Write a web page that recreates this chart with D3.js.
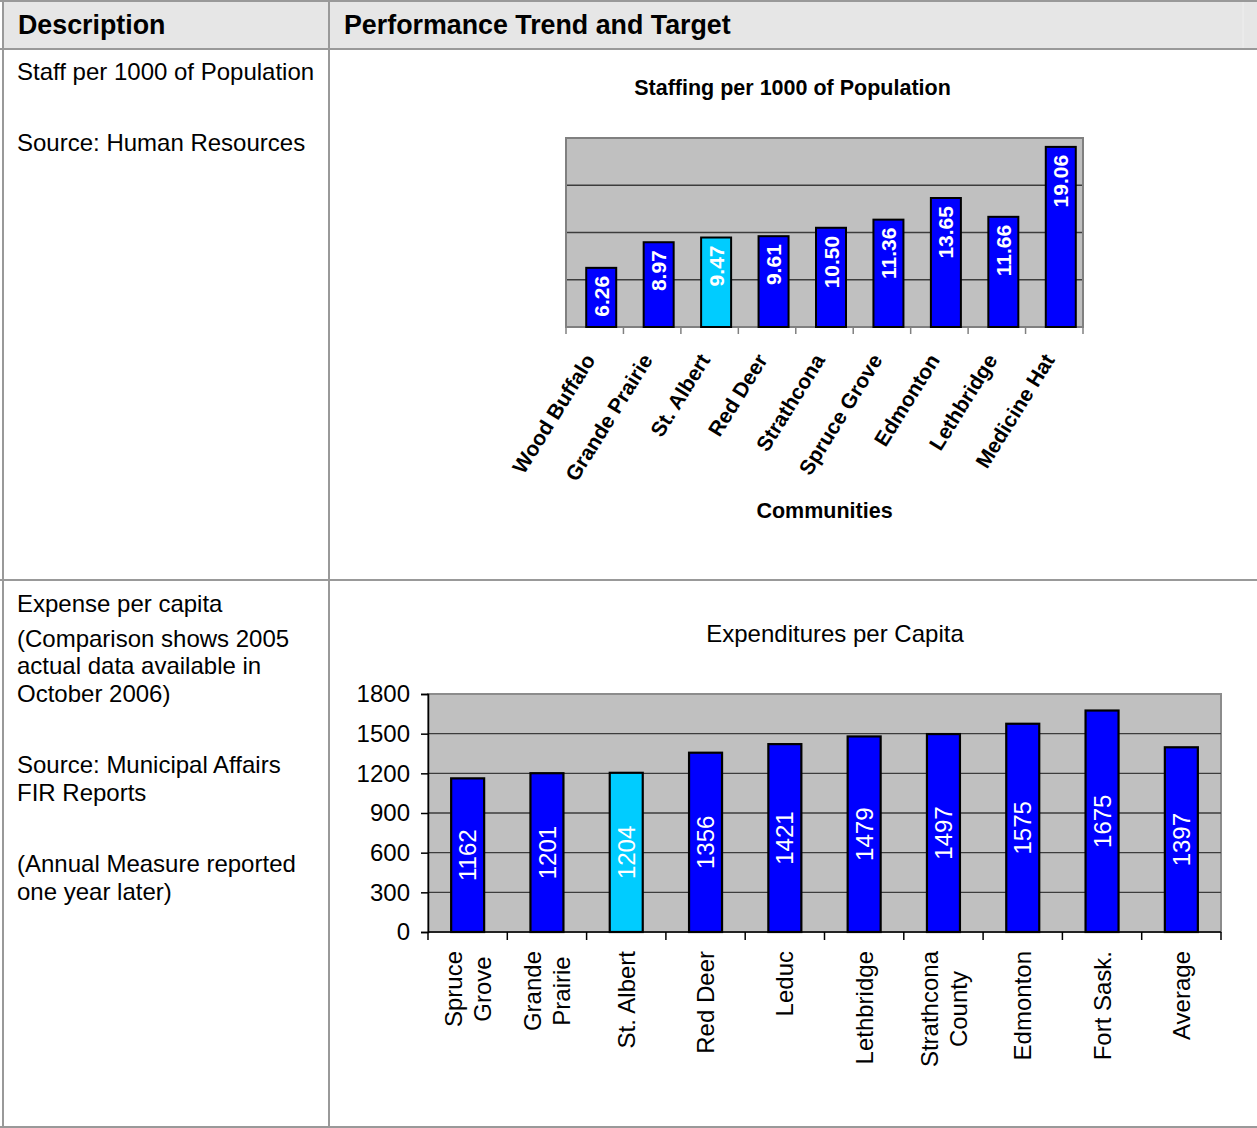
<!DOCTYPE html>
<html>
<head>
<meta charset="utf-8">
<script src="https://cdn.jsdelivr.net/npm/d3@7"></script>
<style>
  html, body { margin: 0; padding: 0; background: #fff; }
  svg { display: block; font-family: "Liberation Sans", Arial, Helvetica, sans-serif; }
</style>
</head>
<body>
<svg id="page" width="1257" height="1128"></svg>
<script>
// Staffing per 1000 of population, by community
const staffCommunities = ["Wood Buffalo", "Grande Prairie", "St. Albert", "Red Deer", "Strathcona",
  "Spruce Grove", "Edmonton", "Lethbridge", "Medicine Hat"];
const staffValues = [6.26, 8.97, 9.47, 9.61, 10.50, 11.36, 13.65, 11.66, 19.06];
const staffGrid = [5, 10, 15];

// Expenditures per capita (2005 actuals)
const expenseCommunities = ["Spruce\nGrove", "Grande\nPrairie", "St. Albert", "Red Deer", "Leduc",
  "Lethbridge", "Strathcona\nCounty", "Edmonton", "Fort Sask.", "Average"];
const expenseValues = [1162, 1201, 1204, 1356, 1421, 1479, 1497, 1575, 1675, 1397];
const expenseTicks = [0, 300, 600, 900, 1200, 1500, 1800];

const highlight = "St. Albert";

// Table text
const headers = ["Description", "Performance Trend and Target"];
const row1Text = [["Staff per 1000 of Population", 80], ["Source: Human Resources", 151]];
const row2Text = [["Expense per capita", 612], ["(Comparison shows 2005", 647], ["actual data available in", 674],
  ["October 2006)", 702], ["Source: Municipal Affairs", 773], ["FIR Reports", 801],
  ["(Annual Measure reported", 872], ["one year later)", 900]];

const BLUE = "#0000ff", CYAN = "#00ccff", PLOT_BG = "#c0c0c0", GRID = "#3c3c3c", BORDER = "#999999";

const svg = d3.select("#page");

// ---------- table frame ----------
svg.append("rect").attr("x", 4).attr("y", 2).attr("width", 1253).attr("height", 46).attr("fill", "#e6e6e6");
svg.append("line").attr("x1", 1243).attr("x2", 1243).attr("y1", 2).attr("y2", 48).attr("stroke", "#efefef").attr("stroke-width", 1);
const frame = svg.append("g").attr("stroke", BORDER).attr("stroke-width", 2);
[[0, 1, 1257, 1], [0, 49, 1257, 49], [0, 580, 1257, 580], [0, 1127, 1257, 1127],
 [3, 0, 3, 1128], [329, 0, 329, 1128]].forEach(([x1, y1, x2, y2]) =>
  frame.append("line").attr("x1", x1).attr("y1", y1).attr("x2", x2).attr("y2", y2));

svg.selectAll("text.hdr").data(headers).join("text")
  .attr("class", "hdr")
  .attr("x", (d, i) => i === 0 ? 18 : 344).attr("y", 34)
  .attr("font-size", 26.8).attr("font-weight", "bold").attr("fill", "#000").text(d => d);

svg.selectAll("text.desc").data(row1Text.concat(row2Text)).join("text")
  .attr("class", "desc")
  .attr("x", 17).attr("y", d => d[1])
  .attr("font-size", 24).attr("fill", "#000").text(d => d[0]);

// ---------- chart 1: staffing ----------
(function () {
  const left = 566, right = 1083, top = 138, bottom = 327;
  const x = d3.scaleBand().domain(staffCommunities).range([left, right]);
  const y = d3.scaleLinear().domain([0, 20]).range([bottom, top]);
  const barW = 30, barShift = 6.5;
  const g = svg.append("g");

  svg.append("text").attr("x", 792.5).attr("y", 95).attr("text-anchor", "middle")
    .attr("font-size", 21.5).attr("font-weight", "bold").text("Staffing per 1000 of Population");

  g.append("rect").attr("x", left).attr("y", top).attr("width", right - left).attr("height", bottom - top)
    .attr("fill", PLOT_BG);
  g.selectAll("line.grid").data(staffGrid).join("line")
    .attr("x1", left).attr("x2", right).attr("y1", d => y(d)).attr("y2", d => y(d))
    .attr("stroke", GRID).attr("stroke-width", 1.5);
  g.append("rect").attr("x", left).attr("y", top).attr("width", right - left).attr("height", bottom - top)
    .attr("fill", "none").attr("stroke", "#808080").attr("stroke-width", 2);

  // tick marks on the band boundaries
  const bounds = staffCommunities.map(c => x(c)).concat([x.range()[1]]);
  g.append("g").attr("transform", `translate(0,${bottom})`)
    .selectAll("line.tk").data(bounds).join("line")
    .attr("x1", d => d).attr("x2", d => d).attr("y1", 0).attr("y2", 7)
    .attr("stroke", "#808080").attr("stroke-width", 1.5);

  const bars = staffCommunities.map((c, i) => ({ c, v: staffValues[i] }));
  g.selectAll("rect.bar").data(bars).join("rect")
    .attr("x", d => x(d.c) + x.bandwidth() / 2 + barShift - barW / 2)
    .attr("y", d => y(d.v)).attr("width", barW).attr("height", d => y(0) - y(d.v))
    .attr("fill", d => d.c === highlight ? CYAN : BLUE)
    .attr("stroke", "#000").attr("stroke-width", 2);

  g.selectAll("text.val").data(bars).join("text")
    .attr("transform", d => `translate(${x(d.c) + x.bandwidth() / 2 + barShift},${y(d.v) + 8}) rotate(-90)`)
    .attr("text-anchor", "end").attr("dy", "0.36em")
    .attr("font-size", 21).attr("font-weight", "bold").attr("fill", "#fff")
    .text(d => d3.format(".2f")(d.v));

  g.selectAll("text.cat").data(staffCommunities).join("text")
    .attr("transform", d => `translate(${x(d) + x.bandwidth() / 2 - 5},${bottom + 29}) rotate(-58)`)
    .attr("text-anchor", "end").attr("dy", "0.35em")
    .attr("font-size", 21).attr("font-weight", "bold").text(d => d);

  svg.append("text").attr("x", (left + right) / 2).attr("y", 518).attr("text-anchor", "middle")
    .attr("font-size", 21.5).attr("font-weight", "bold").text("Communities");
})();

// ---------- chart 2: expenditures ----------
(function () {
  const left = 428, right = 1221, top = 694, bottom = 932;
  const x = d3.scaleBand().domain(expenseCommunities).range([left, right]);
  const y = d3.scaleLinear().domain([0, 1800]).range([bottom, top]);
  const barW = 33;
  const g = svg.append("g");

  svg.append("text").attr("x", 835).attr("y", 642).attr("text-anchor", "middle")
    .attr("font-size", 24).text("Expenditures per Capita");

  g.append("rect").attr("x", left).attr("y", top).attr("width", right - left).attr("height", bottom - top)
    .attr("fill", PLOT_BG).attr("stroke", "#8c8c8c").attr("stroke-width", 2);
  g.selectAll("line.grid").data(expenseTicks.filter(t => t > 0 && t < 1800)).join("line")
    .attr("x1", left).attr("x2", right).attr("y1", d => y(d)).attr("y2", d => y(d))
    .attr("stroke", GRID).attr("stroke-width", 1.3);

  // y axis
  const yAxis = d3.axisLeft(y).tickValues(expenseTicks).tickFormat(d3.format("d")).tickSize(7).tickPadding(11);
  const ya = g.append("g").attr("transform", `translate(${left},0)`).call(yAxis);
  ya.select(".domain").attr("stroke", "#000").attr("stroke-width", 1.5);
  ya.selectAll(".tick line").attr("stroke", "#000").attr("stroke-width", 1.5);
  ya.selectAll(".tick text").attr("font-size", 24).attr("font-family", "Liberation Sans, Arial, sans-serif")
    .attr("fill", "#000");

  // x axis with ticks on band boundaries
  const xa = g.append("g").attr("transform", `translate(0,${bottom})`);
  xa.append("line").attr("x1", left).attr("x2", right).attr("stroke", "#000").attr("stroke-width", 1.5);
  const bounds = expenseCommunities.map(c => x(c)).concat([x.range()[1]]);
  xa.selectAll("line.tk").data(bounds).join("line")
    .attr("x1", d => d).attr("x2", d => d).attr("y1", 0).attr("y2", 8)
    .attr("stroke", "#000").attr("stroke-width", 1.5);

  const bars = expenseCommunities.map((c, i) => ({ c, v: expenseValues[i] }));
  const cx = d => x(d.c) + x.bandwidth() / 2;
  g.selectAll("rect.bar").data(bars).join("rect")
    .attr("x", d => cx(d) - barW / 2)
    .attr("y", d => y(d.v)).attr("width", barW).attr("height", d => y(0) - y(d.v))
    .attr("fill", d => d.c === highlight ? CYAN : BLUE)
    .attr("stroke", "#000").attr("stroke-width", 2.2);

  g.selectAll("text.val").data(bars).join("text")
    .attr("transform", d => `translate(${cx(d)},${(y(d.v) + y(0)) / 2}) rotate(-90)`)
    .attr("text-anchor", "middle").attr("dy", "0.36em")
    .attr("font-size", 24).attr("fill", "#fff").text(d => d.v);

  // category labels, rotated, multi-line centred on each other and hung from the axis
  const lineGap = 29;
  expenseCommunities.forEach(c => {
    const lines = c.split("\n");
    const t = g.append("text").attr("font-size", 24).attr("text-anchor", "middle");
    lines.forEach((ln, i) => t.append("tspan").attr("x", 0).attr("y", (i - (lines.length - 1) / 2) * lineGap)
      .attr("dy", "0.36em").text(ln));
    const w = d3.max(t.selectAll("tspan").nodes(), n => n.getComputedTextLength());
    t.attr("transform", `translate(${x(c) + x.bandwidth() / 2},${bottom + 19 + w / 2}) rotate(-90)`);
  });
})();
</script>
</body>
</html>
